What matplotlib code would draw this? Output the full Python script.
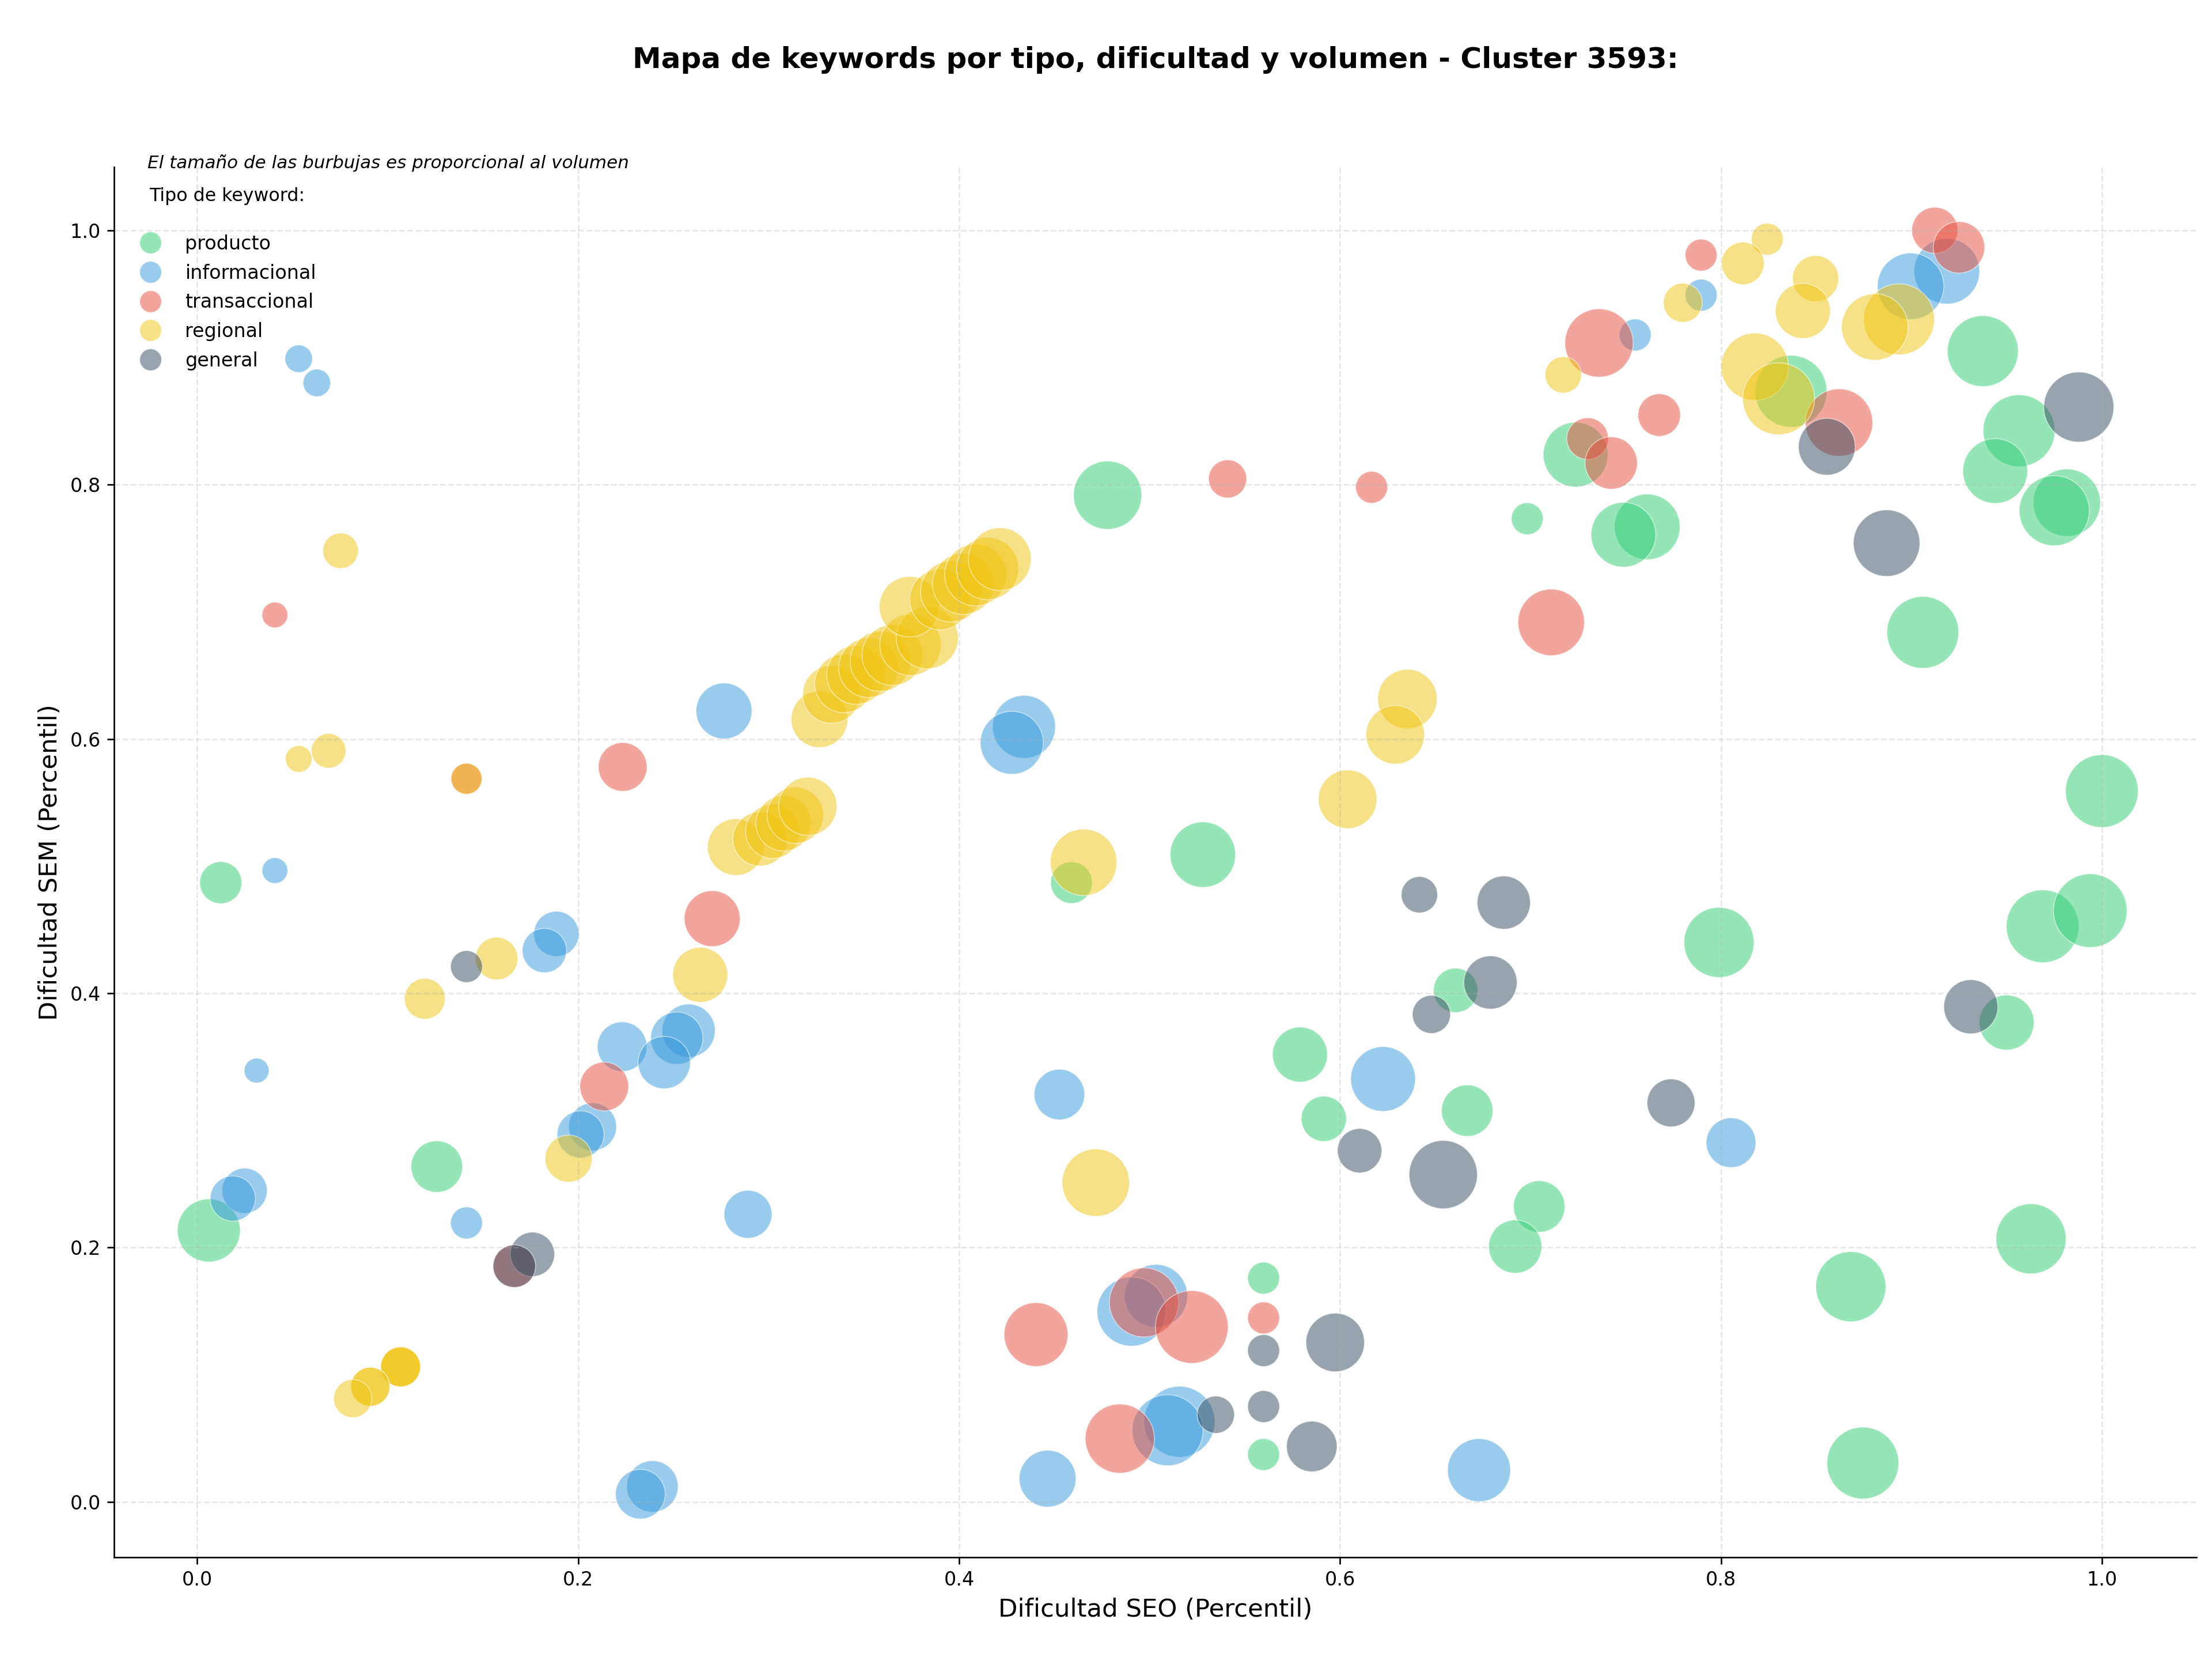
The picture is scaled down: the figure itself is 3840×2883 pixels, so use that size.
import matplotlib
matplotlib.use("Agg")
import matplotlib.pyplot as plt
from matplotlib.lines import Line2D

# Colores por tipo de keyword
TYPE_COLORS = {
    'producto': '#2ecc71',
    'informacional': '#3498db',
    'transaccional': '#e74c3c',
    'regional': '#f1c40f',
    'general': '#34495e',
}

# producto
seo_producto = [0.459, 0.0124, 0.1258, 0.0061, 0.478, 0.528, 0.7237, 0.6983, 0.7613, 0.7488,
                0.8368, 0.9375, 0.9565, 0.944, 0.9816, 0.975, 0.906, 1.0, 0.6607, 0.579,
                0.6668, 0.5915, 0.5599, 0.5599, 0.799, 0.9689, 0.9939, 0.95, 0.7046, 0.692,
                0.8682, 0.9628, 0.8745]
sem_producto = [0.487, 0.487, 0.2637, 0.2135, 0.7917, 0.509, 0.8236, 0.7732, 0.7668, 0.7606,
                0.8734, 0.905, 0.8424, 0.8107, 0.7858, 0.7795, 0.6838, 0.559, 0.4023, 0.3518,
                0.3077, 0.3013, 0.176, 0.0373, 0.44, 0.4527, 0.465, 0.377, 0.2323, 0.2008,
                0.1693, 0.2069, 0.0306]
vol_producto = [470, 480, 717, 1074, 1263, 1160, 1135, 276, 1167, 1135,
                1398, 1363, 1398, 1135, 1230, 1330, 1398, 1433, 533, 819,
                717, 554, 276, 276, 1330, 1433, 1468, 819, 717, 767,
                1330, 1330, 1398]

# informacional
seo_informacional = [0.0533, 0.0628, 0.2766, 0.0408, 0.1886, 0.1823, 0.2231, 0.258, 0.2518, 0.2452,
                     0.2076, 0.2013, 0.0249, 0.0187, 0.0312, 0.1414, 0.239, 0.2327, 0.2892, 0.4341,
                     0.4277, 0.9186, 0.8996, 0.7896, 0.755, 0.6226, 0.4527, 0.5034, 0.4906, 0.5157,
                     0.5095, 0.4465, 0.673, 0.8053]
sem_informacional = [0.899, 0.880, 0.622, 0.4965, 0.4467, 0.4336, 0.358, 0.3706, 0.3647, 0.3455,
                     0.295, 0.289, 0.2447, 0.2386, 0.3392, 0.2194, 0.0122, 0.0061, 0.2262, 0.6095,
                     0.597, 0.9678, 0.956, 0.949, 0.9177, 0.3326, 0.3204, 0.162, 0.1497, 0.0631,
                     0.0564, 0.0183, 0.025, 0.2825]
vol_informacional = [205, 205, 846, 179, 554, 533, 668, 767, 742, 742,
                     621, 598, 554, 554, 167, 276, 717, 668, 621, 1074,
                     1074, 1167, 1198, 276, 276, 1135, 692, 1074, 1296, 1363,
                     1363, 873, 1074, 668]

# transaccional
seo_transaccional = [0.0408, 0.1414, 0.2234, 0.2704, 0.2137, 0.1665, 0.541, 0.6166, 0.9123, 0.925,
                     0.7896, 0.736, 0.7676, 0.73, 0.7424, 0.7109, 0.862, 0.5599, 0.4971, 0.5222,
                     0.4404, 0.4844]
sem_transaccional = [0.6975, 0.5687, 0.578, 0.4587, 0.3267, 0.1854, 0.8045, 0.7979, 1.0, 0.9866,
                     0.9805, 0.9114, 0.8547, 0.8362, 0.817, 0.6917, 0.8488, 0.1447, 0.1569, 0.1376,
                     0.1316, 0.0498]
vol_transaccional = [179, 261, 644, 846, 644, 491, 394, 276, 576, 717,
                     276, 1263, 491, 470, 742, 1198, 1230, 276, 1296, 1433,
                     1105, 1296]

# regional
seo_regional = [0.0753, 0.0533, 0.069, 0.1414, 0.1572, 0.1195, 0.2641, 0.195, 0.1068, 0.1068,
                0.1068, 0.0909, 0.0909, 0.0817, 0.2828, 0.2955, 0.3022, 0.3079, 0.314, 0.3206,
                0.3267, 0.333, 0.3395, 0.346, 0.3524, 0.3586, 0.365, 0.3745, 0.3833, 0.374,
                0.39, 0.3958, 0.4022, 0.4087, 0.415, 0.4214, 0.4654, 0.4718, 0.6354, 0.629,
                0.604, 0.8935, 0.8808, 0.8497, 0.843, 0.8243, 0.8115, 0.780, 0.7172, 0.8178,
                0.8303]
sem_regional = [0.748, 0.5843, 0.5907, 0.5687, 0.4273, 0.3957, 0.4145, 0.270, 0.1062, 0.1062,
                0.1062, 0.0906, 0.0906, 0.0813, 0.515, 0.5214, 0.5274, 0.5336, 0.540, 0.547,
                0.6155, 0.635, 0.6436, 0.6504, 0.656, 0.661, 0.666, 0.674, 0.6795, 0.704,
                0.7097, 0.716, 0.722, 0.729, 0.734, 0.7414, 0.503, 0.2511, 0.6314, 0.6033,
                0.5526, 0.930, 0.924, 0.962, 0.9366, 0.993, 0.974, 0.943, 0.8863, 0.8927,
                0.8675]
vol_regional = [341, 192, 324, 261, 491, 451, 819, 598, 431, 431,
                431, 412, 412, 394, 868, 800, 800, 830, 860, 916,
                868, 900, 920, 940, 960, 980, 1000, 1020, 1044, 990,
                1000, 1010, 1020, 1040, 1050, 1068, 1198, 1230, 956, 928,
                928, 1363, 1198, 576, 819, 276, 491, 412, 358, 1230,
                1398]

# general
seo_general = [0.1414, 0.176, 0.1665, 0.8556, 0.9879, 0.887, 0.6417, 0.686, 0.679, 0.648,
               0.6103, 0.6542, 0.5599, 0.5599, 0.5975, 0.5852, 0.5348, 0.9312, 0.7738]
sem_general = [0.421, 0.1947, 0.1854, 0.8298, 0.861, 0.754, 0.4775, 0.4713, 0.4085, 0.3834,
               0.2762, 0.2574, 0.119, 0.075, 0.1254, 0.0436, 0.0686, 0.3894, 0.3138]
vol_general = [276, 533, 491, 873, 1330, 1198, 358, 767, 767, 394,
               533, 1263, 276, 276, 928, 692, 376, 793, 621]

series = [
    ('producto', seo_producto, sem_producto, vol_producto),
    ('informacional', seo_informacional, sem_informacional, vol_informacional),
    ('transaccional', seo_transaccional, sem_transaccional, vol_transaccional),
    ('regional', seo_regional, sem_regional, vol_regional),
    ('general', seo_general, sem_general, vol_general),
]

fig = plt.figure(figsize=(16, 12.0125), dpi=240)
ax = fig.add_subplot(111)
fig.subplots_adjust(left=0.0516, right=0.993, bottom=0.0624, top=0.8994)

for name, seo, sem, vol in series:
    ax.scatter(seo, sem, s=vol, c=TYPE_COLORS[name], alpha=0.5,
               edgecolors='white', linewidths=0.5)

ax.set_xlabel('Dificultad SEO (Percentil)', fontsize=13)
ax.set_ylabel('Dificultad SEM (Percentil)', fontsize=13)
ax.grid(True, linestyle='--', alpha=0.3)
ax.spines['top'].set_visible(False)
ax.spines['right'].set_visible(False)

ax.text(0.5, 1.077, 'Mapa de keywords por tipo, dificultad y volumen - Cluster 3593:',
        transform=ax.transAxes, ha='center', va='center', fontsize=15, fontweight='bold')
ax.text(0.016, 1.003, 'El tamaño de las burbujas es proporcional al volumen',
        transform=ax.transAxes, ha='left', va='center', fontsize=9.3, style='italic')
ax.text(0.017, 0.979, 'Tipo de keyword:',
        transform=ax.transAxes, ha='left', va='center', fontsize=9.5)

handles = [Line2D([], [], linestyle='none', marker='o', markersize=11.4,
                  markerfacecolor=TYPE_COLORS[name], markeredgecolor='white',
                  markeredgewidth=0.5, alpha=0.5, label=name)
           for name, _, _, _ in series]
ax.legend(handles=handles, loc='upper left', bbox_to_anchor=(0.0, 0.964),
          frameon=False, fontsize=10, labelspacing=0.53)

fig.savefig('out.png', dpi=240)
